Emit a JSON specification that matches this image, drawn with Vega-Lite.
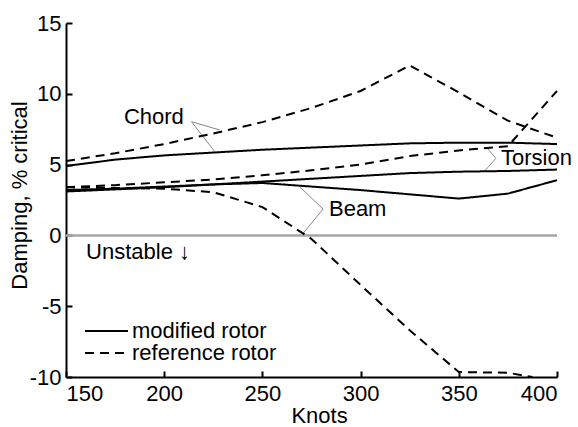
{
  "$schema": "https://vega.github.io/schema/vega-lite/v6.json",
  "autosize": "none",
  "width": 491,
  "height": 354,
  "padding": {"left": 66, "top": 23, "right": 21, "bottom": 50},
  "background": "white",
  "config": {
    "view": {"stroke": null},
    "font": "Liberation Sans",
    "axis": {
      "labelFont": "Liberation Sans", "labelFontSize": 22, "labelColor": "black",
      "titleFont": "Liberation Sans", "titleFontSize": 22, "titleColor": "black", "titleFontWeight": "normal",
      "domainColor": "black", "domainWidth": 2, "tickColor": "black", "tickWidth": 2, "tickSize": -6,
      "grid": false
    },
    "legend": {"labelFont": "Liberation Sans", "labelFontSize": 22, "labelColor": "black"}
  },
  "datasets": {
    "curves": [
      {"mode": "Chord", "rotor": "modified rotor", "knots": 150, "damping": 4.9},
      {"mode": "Chord", "rotor": "modified rotor", "knots": 175, "damping": 5.35},
      {"mode": "Chord", "rotor": "modified rotor", "knots": 200, "damping": 5.65},
      {"mode": "Chord", "rotor": "modified rotor", "knots": 225, "damping": 5.85},
      {"mode": "Chord", "rotor": "modified rotor", "knots": 250, "damping": 6.05},
      {"mode": "Chord", "rotor": "modified rotor", "knots": 275, "damping": 6.2},
      {"mode": "Chord", "rotor": "modified rotor", "knots": 300, "damping": 6.35},
      {"mode": "Chord", "rotor": "modified rotor", "knots": 325, "damping": 6.5},
      {"mode": "Chord", "rotor": "modified rotor", "knots": 350, "damping": 6.55},
      {"mode": "Chord", "rotor": "modified rotor", "knots": 375, "damping": 6.55},
      {"mode": "Chord", "rotor": "modified rotor", "knots": 400, "damping": 6.45},
      {"mode": "Chord", "rotor": "reference rotor", "knots": 150, "damping": 5.25},
      {"mode": "Chord", "rotor": "reference rotor", "knots": 175, "damping": 5.8},
      {"mode": "Chord", "rotor": "reference rotor", "knots": 200, "damping": 6.45},
      {"mode": "Chord", "rotor": "reference rotor", "knots": 225, "damping": 7.2},
      {"mode": "Chord", "rotor": "reference rotor", "knots": 250, "damping": 8.0},
      {"mode": "Chord", "rotor": "reference rotor", "knots": 275, "damping": 9.0},
      {"mode": "Chord", "rotor": "reference rotor", "knots": 300, "damping": 10.2},
      {"mode": "Chord", "rotor": "reference rotor", "knots": 325, "damping": 12.0},
      {"mode": "Chord", "rotor": "reference rotor", "knots": 350, "damping": 10.1},
      {"mode": "Chord", "rotor": "reference rotor", "knots": 375, "damping": 8.1},
      {"mode": "Chord", "rotor": "reference rotor", "knots": 400, "damping": 6.9},
      {"mode": "Torsion", "rotor": "modified rotor", "knots": 150, "damping": 3.2},
      {"mode": "Torsion", "rotor": "modified rotor", "knots": 175, "damping": 3.3},
      {"mode": "Torsion", "rotor": "modified rotor", "knots": 200, "damping": 3.45},
      {"mode": "Torsion", "rotor": "modified rotor", "knots": 225, "damping": 3.6},
      {"mode": "Torsion", "rotor": "modified rotor", "knots": 250, "damping": 3.8},
      {"mode": "Torsion", "rotor": "modified rotor", "knots": 275, "damping": 4.0},
      {"mode": "Torsion", "rotor": "modified rotor", "knots": 300, "damping": 4.2},
      {"mode": "Torsion", "rotor": "modified rotor", "knots": 325, "damping": 4.4},
      {"mode": "Torsion", "rotor": "modified rotor", "knots": 350, "damping": 4.5},
      {"mode": "Torsion", "rotor": "modified rotor", "knots": 375, "damping": 4.55},
      {"mode": "Torsion", "rotor": "modified rotor", "knots": 400, "damping": 4.65},
      {"mode": "Torsion", "rotor": "reference rotor", "knots": 150, "damping": 3.4},
      {"mode": "Torsion", "rotor": "reference rotor", "knots": 175, "damping": 3.55},
      {"mode": "Torsion", "rotor": "reference rotor", "knots": 200, "damping": 3.75},
      {"mode": "Torsion", "rotor": "reference rotor", "knots": 225, "damping": 3.95},
      {"mode": "Torsion", "rotor": "reference rotor", "knots": 250, "damping": 4.25},
      {"mode": "Torsion", "rotor": "reference rotor", "knots": 275, "damping": 4.6},
      {"mode": "Torsion", "rotor": "reference rotor", "knots": 300, "damping": 5.0},
      {"mode": "Torsion", "rotor": "reference rotor", "knots": 325, "damping": 5.6},
      {"mode": "Torsion", "rotor": "reference rotor", "knots": 350, "damping": 6.0},
      {"mode": "Torsion", "rotor": "reference rotor", "knots": 375, "damping": 6.3},
      {"mode": "Torsion", "rotor": "reference rotor", "knots": 400, "damping": 10.2},
      {"mode": "Beam", "rotor": "modified rotor", "knots": 150, "damping": 3.1},
      {"mode": "Beam", "rotor": "modified rotor", "knots": 175, "damping": 3.25},
      {"mode": "Beam", "rotor": "modified rotor", "knots": 200, "damping": 3.4},
      {"mode": "Beam", "rotor": "modified rotor", "knots": 225, "damping": 3.6},
      {"mode": "Beam", "rotor": "modified rotor", "knots": 250, "damping": 3.7},
      {"mode": "Beam", "rotor": "modified rotor", "knots": 275, "damping": 3.45},
      {"mode": "Beam", "rotor": "modified rotor", "knots": 300, "damping": 3.2},
      {"mode": "Beam", "rotor": "modified rotor", "knots": 325, "damping": 2.9},
      {"mode": "Beam", "rotor": "modified rotor", "knots": 350, "damping": 2.6},
      {"mode": "Beam", "rotor": "modified rotor", "knots": 375, "damping": 2.95},
      {"mode": "Beam", "rotor": "modified rotor", "knots": 400, "damping": 3.9},
      {"mode": "Beam", "rotor": "reference rotor", "knots": 150, "damping": 3.4},
      {"mode": "Beam", "rotor": "reference rotor", "knots": 175, "damping": 3.35},
      {"mode": "Beam", "rotor": "reference rotor", "knots": 200, "damping": 3.3},
      {"mode": "Beam", "rotor": "reference rotor", "knots": 225, "damping": 3.05},
      {"mode": "Beam", "rotor": "reference rotor", "knots": 250, "damping": 2.0},
      {"mode": "Beam", "rotor": "reference rotor", "knots": 275, "damping": -0.25},
      {"mode": "Beam", "rotor": "reference rotor", "knots": 300, "damping": -3.5},
      {"mode": "Beam", "rotor": "reference rotor", "knots": 325, "damping": -6.7},
      {"mode": "Beam", "rotor": "reference rotor", "knots": 350, "damping": -9.65},
      {"mode": "Beam", "rotor": "reference rotor", "knots": 375, "damping": -9.7},
      {"mode": "Beam", "rotor": "reference rotor", "knots": 387.5, "damping": -10.0}
    ],
    "leaders": [
      {"k1": 213.9, "v1": 8.03, "k2": 228.3, "v2": 7.44},
      {"k1": 213.9, "v1": 8.03, "k2": 225.8, "v2": 5.91},
      {"k1": 368.9, "v1": 5.44, "k2": 364.3, "v2": 6.19},
      {"k1": 368.9, "v1": 5.44, "k2": 363.3, "v2": 4.57},
      {"k1": 280.9, "v1": 1.86, "k2": 269.0, "v2": 3.43},
      {"k1": 280.9, "v1": 1.86, "k2": 270.5, "v2": 0.11}
    ],
    "labels": [
      {"text": "Chord", "k": 179.5, "v": 8.35},
      {"text": "Torsion", "k": 371.5, "v": 5.44},
      {"text": "Beam", "k": 283.9, "v": 1.86},
      {"text": "Unstable ↓", "k": 160.2, "v": -1.18}
    ]
  },
  "layer": [
    {
      "data": {"values": [{"z": 0}]},
      "mark": {"type": "rule", "color": "#a6a6a6", "strokeWidth": 2.5},
      "encoding": {"y": {"field": "z", "type": "quantitative", "scale": {"domain": [-10, 15]}}}
    },
    {
      "data": {"name": "leaders"},
      "mark": {"type": "rule", "color": "#888888", "strokeWidth": 1},
      "encoding": {
        "x": {"field": "k1", "type": "quantitative"},
        "y": {"field": "v1", "type": "quantitative"},
        "x2": {"field": "k2"},
        "y2": {"field": "v2"}
      }
    },
    {
      "data": {"name": "curves"},
      "mark": {"type": "line", "color": "black", "strokeWidth": 2},
      "encoding": {
        "x": {"field": "knots", "type": "quantitative", "scale": {"domain": [150, 400], "nice": false, "zero": false},
              "axis": {"values": [150, 200, 250, 300, 350, 400], "title": "Knots", "labelPadding": 12, "titlePadding": 1, "titleX": 253}},
        "y": {"field": "damping", "type": "quantitative", "scale": {"domain": [-10, 15], "nice": false, "zero": false},
              "axis": {"values": [-10, -5, 0, 5, 10, 15], "title": "Damping, % critical", "labelPadding": 11,
                       "labelExpr": "toString(datum.value)", "titleX": -39.5, "titleY": 172, "titleBaseline": "alphabetic"}},
        "detail": {"field": "mode"},
        "strokeDash": {"field": "rotor", "type": "nominal",
          "scale": {"domain": ["modified rotor", "reference rotor"], "range": [[1, 0], [9, 6]]},
          "legend": {"title": null, "orient": "none", "legendX": 29.5, "legendY": 297, "symbolType": "M-2.15,0H2.15",
                     "symbolSize": 400, "symbolStrokeWidth": 2, "symbolStrokeColor": "black", "rowPadding": 0,
                     "labelOffset": 14.5, "padding": 0}}
      }
    },
    {
      "data": {"name": "labels"},
      "mark": {"type": "text", "align": "left", "baseline": "middle", "fontSize": 22, "font": "Liberation Sans", "color": "black"},
      "encoding": {
        "x": {"field": "k", "type": "quantitative"},
        "y": {"field": "v", "type": "quantitative"},
        "text": {"field": "text"}
      }
    }
  ]
}
